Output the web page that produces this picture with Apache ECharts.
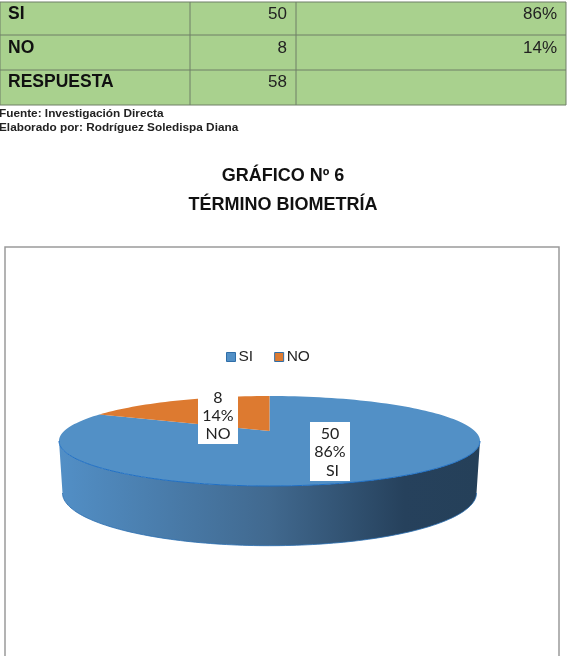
<!DOCTYPE html>
<html>
<head>
<meta charset="utf-8">
<style>html,body{margin:0;padding:0;background:#fff;overflow:hidden}#chart{width:569px;height:656px}</style>
<script src="https://cdn.jsdelivr.net/npm/echarts@6/dist/echarts.min.js"></script>
</head>
<body>
<div id="chart"></div>
<script>
// Survey answers
const categories = ['SI', 'NO'];
const counts = [50, 8];
const percents = ['86%', '14%'];
const totalLabel = 'RESPUESTA';
const totalCount = 58;
const sourceLines = ['Fuente: Investigación Directa', 'Elaborado por: Rodríguez Soledispa Diana'];
const titleLines = ['GRÁFICO Nº 6', 'TÉRMINO BIOMETRÍA'];

// Geometry of the tilted disc
const disc = {
  cx: 269.5, cy: 441, rx: 210.5, ry: 45,   // upper face
  apexY: 431,                              // where the slices meet
  baseCy: 493, baseRx: 207, baseRy: 52.7,  // lower rim
  skew: 4.3                                // angular foreshortening, degrees
};
const sliceColors = ['#5290C6', '#DD7A30'];
const tagBoxes = [
  { x: 310, y: 422, w: 40, h: 59, textTop: 434, nameShift: 2.5 },
  { x: 198, y: 394, w: 40, h: 50, textTop: 397.5, nameShift: 0 }
];

const rad = Math.PI / 180;
// Screen point on the upper rim for a clockwise angle measured from 12 o'clock
function rimPoint(deg) {
  const warped = deg + disc.skew * Math.sin(2 * deg * rad);
  return [disc.cx + disc.rx * Math.sin(warped * rad), disc.cy - disc.ry * Math.cos(warped * rad)];
}
function slicePoints(from, to) {
  const pts = [[disc.cx, disc.apexY]];
  const n = Math.max(2, Math.ceil((to - from) / 1.5));
  for (let i = 0; i <= n; i++) pts.push(rimPoint(from + (to - from) * i / n));
  return pts;
}
// Front wall between the upper rim and the lower rim
function wallPoints() {
  const upper = [], lower = [];
  for (let a = 0; a <= 180; a += 1.5) {
    const c = Math.cos(a * rad), s = Math.sin(a * rad);
    upper.push([disc.cx - disc.rx * c, disc.cy + disc.ry * s]);
    lower.push([disc.cx - disc.baseRx * c, disc.baseCy + disc.baseRy * s]);
  }
  return { upper, lower };
}

const total = counts.reduce((a, b) => a + b, 0);

function renderSlice(params, api) {
  const idx = params.seriesIndex;
  const value = api.value(0);
  const before = counts.slice(0, idx).reduce((a, b) => a + b, 0);
  const from = before / total * 360;
  const to = (before + value) / total * 360;
  const children = [];
  const holdsFront = to > 180 && from < 180;
  const wall = holdsFront ? wallPoints() : null;
  if (holdsFront) {
    children.push({
      type: 'polygon',
      shape: { points: wall.upper.concat(wall.lower.slice().reverse()) },
      style: {
        fill: new echarts.graphic.LinearGradient(0, 0, 1, 0, [
          { offset: 0, color: '#528FC6' },
          { offset: 0.5, color: '#41698F' },
          { offset: 0.82, color: '#26415C' },
          { offset: 1, color: '#254059' }
        ])
      }
    });
    children.push({
      type: 'polyline',
      shape: { points: wall.lower },
      style: { fill: null, stroke: '#2A6DB0', lineWidth: 0.8 }
    });
  }
  children.push({
    type: 'polygon',
    shape: { points: slicePoints(from, to) },
    style: { fill: sliceColors[idx] }
  });
  if (holdsFront) {
    children.push({
      type: 'polyline',
      shape: { points: wall.upper },
      style: { fill: null, stroke: '#1F6FC4', lineWidth: 1 }
    });
  }
  return { type: 'group', children };
}

// Value / share / name tag drawn above both slices
function renderTag(params, api) {
  const i = api.value(0);
  const box = tagBoxes[i];
  const lines = [String(counts[i]), Math.round(counts[i] / total * 100) + '%', categories[i]];
  const children = [{ type: 'rect', shape: { x: box.x, y: box.y, width: box.w, height: box.h }, style: { fill: '#fff' } }];
  lines.forEach((text, k) => children.push({
    type: 'text',
    style: {
      x: box.x + box.w / 2 + (k === 2 ? box.nameShift : 0), y: box.textTop + k * 18.3,
      text, fill: '#222', font: '16px Lato', align: 'center', verticalAlign: 'middle'
    }
  }));
  return { type: 'group', children };
}

// Table and captions
const tableX = [0, 190, 296, 566];
const tableY = [2, 35, 70, 105];
const rowCenters = [14, 48.5, 82];
const rows = [
  [categories[0], String(counts[0]), percents[0]],
  [categories[1], String(counts[1]), percents[1]],
  [totalLabel, String(totalCount), '']
];
const gfx = [];
gfx.push({ type: 'rect', shape: { x: tableX[0], y: tableY[0], width: tableX[3], height: tableY[3] - tableY[0] }, style: { fill: '#A9D18E', stroke: '#6F7F66', lineWidth: 1 } });
tableY.slice(1, 3).forEach(y => gfx.push({ type: 'line', shape: { x1: 0, y1: y, x2: tableX[3], y2: y }, style: { stroke: '#6F7F66', lineWidth: 1 } }));
tableX.slice(1, 3).forEach(x => gfx.push({ type: 'line', shape: { x1: x, y1: tableY[0], x2: x, y2: tableY[3] }, style: { stroke: '#6F7F66', lineWidth: 1 } }));
rows.forEach((row, r) => {
  const y = rowCenters[r];
  gfx.push({ type: 'text', style: { x: 8, y, text: row[0], font: 'bold 17.5px "Liberation Sans"', fill: '#111', verticalAlign: 'middle' } });
  gfx.push({ type: 'text', style: { x: tableX[2] - 9, y, text: row[1], font: '17px "Liberation Sans"', fill: '#222', align: 'right', verticalAlign: 'middle' } });
  gfx.push({ type: 'text', style: { x: tableX[3] - 9, y, text: row[2], font: '17px "Liberation Sans"', fill: '#222', align: 'right', verticalAlign: 'middle' } });
});
sourceLines.forEach((line, i) => gfx.push({ type: 'text', style: { x: -1, y: 114 + i * 14, text: line, font: 'bold 11.8px "Liberation Sans"', fill: '#222', verticalAlign: 'middle' } }));
titleLines.forEach((line, i) => gfx.push({ type: 'text', style: { x: 283, y: 176.5 + i * 29, text: line, font: 'bold 18px "Liberation Sans"', fill: '#111', align: 'center', verticalAlign: 'middle' } }));
// Chart frame, open at the bottom of the page
gfx.push({ type: 'polyline', shape: { points: [[5, 656], [5, 247], [559, 247], [559, 656]] }, style: { fill: null, stroke: '#9A9A9A', lineWidth: 1.5 } });

const chart = echarts.init(document.getElementById('chart'), null, { renderer: 'canvas' });
chart.setOption({
  animation: false,
  backgroundColor: '#fff',
  legend: {
    data: categories.map((name, i) => ({ name, icon: 'rect', itemStyle: { color: sliceColors[i], borderColor: '#2F6EA8', borderWidth: 1 } })),
    left: 221, top: 344, itemWidth: 9, itemHeight: 9, itemGap: 21,
    textStyle: { fontFamily: 'Liberation Sans', fontSize: 15.5, color: '#262626', padding: [0, 0, 0, -2] }
  },
  graphic: { elements: gfx },
  series: [
    { type: 'custom', name: categories[0], coordinateSystem: 'none', renderItem: renderSlice, data: [[counts[0]]], itemStyle: { color: sliceColors[0] }, z: 2, silent: true },
    { type: 'custom', name: categories[1], coordinateSystem: 'none', renderItem: renderSlice, data: [[counts[1]]], itemStyle: { color: sliceColors[1] }, z: 3, silent: true },
    { type: 'custom', coordinateSystem: 'none', renderItem: renderTag, data: categories.map((c, i) => [i]), z: 4, silent: true }
  ]
});
</script>
</body>
</html>
